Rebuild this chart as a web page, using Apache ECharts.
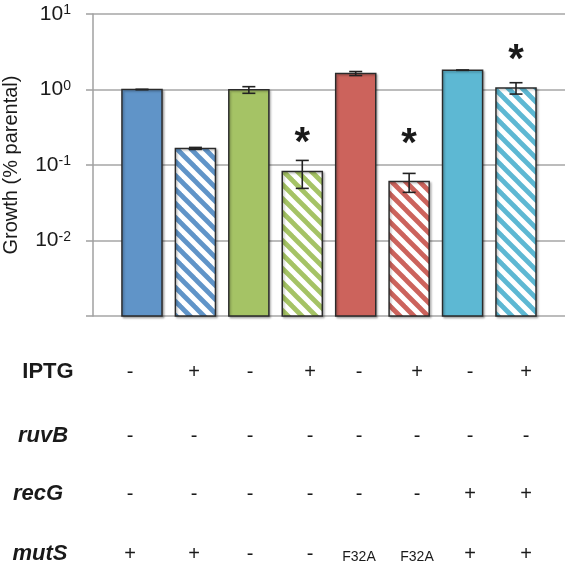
<!DOCTYPE html>
<html><head><meta charset="utf-8">
<script src="https://cdn.jsdelivr.net/npm/echarts@6/dist/echarts.min.js"></script>
<style>html,body{margin:0;padding:0;background:#fff}#c{width:565px;height:566px}</style>
</head><body><div id="c"></div>
<script>
// ---- data ----
const categories = ['1', '2', '3', '4', '5', '6', '7', '8'];
const growth = [1.0, 0.166, 0.99, 0.082, 1.63, 0.0604, 1.80, 1.05];
const errors = [0.004, 0.005, 0.10, 0.033, 0.10, 0.017, 0.008, 0.18];
const hatched = [false, true, false, true, false, true, false, true];
const barColors = ['#6094C8', '#6094C8', '#A5C365', '#A5C365', '#CC635C', '#CC635C', '#5DB8D3', '#5DB8D3'];
const asteriskY = [null, null, null, 0.25, null, 0.245, null, 3.1];
const yMin = 0.001, yMax = 10;
const rowLabels = ['IPTG', 'ruvB', 'recG', 'mutS'];
const rowItalic = [false, true, true, true];
const iptgRow = ['-', '+', '-', '+', '-', '+', '-', '+'];
const ruvBRow = ['-', '-', '-', '-', '-', '-', '-', '-'];
const recGRow = ['-', '-', '-', '-', '-', '-', '+', '+'];
const mutSRow = ['+', '+', '-', '-', 'F32A', 'F32A', '+', '+'];
const tableRows = [iptgRow, ruvBRow, recGRow, mutSRow];

// ---- layout ----
const FONT = '"Liberation Sans", Arial, sans-serif';
const colX = [130, 194, 250, 310, 359, 417, 470, 526];
const rowY = [372, 436, 494, 554];
const labelX = [48, 43, 38, 40];

function makePattern(color) {
  const P = 14;
  const cv = document.createElement('canvas');
  cv.width = P; cv.height = P;
  const ctx = cv.getContext('2d');
  ctx.fillStyle = '#ffffff';
  ctx.fillRect(0, 0, P, P);
  ctx.strokeStyle = color;
  ctx.lineWidth = 4.8;
  for (let k = -1; k <= 1; k++) {
    ctx.beginPath();
    ctx.moveTo(k * P - 2, -2);
    ctx.lineTo(k * P + P + 2, P + 2);
    ctx.stroke();
  }
  return { image: cv, repeat: 'repeat' };
}

const barData = categories.map((c, i) => [i, growth[i]]);
const errData = categories.map((c, i) => [i, growth[i], errors[i]]);
const astData = [];
asteriskY.forEach((v, i) => { if (v != null) astData.push([i, v]); });

const chart = echarts.init(document.getElementById('c'), null, { renderer: 'canvas' });

const graphics = [];
rowLabels.forEach((lab, r) => {
  graphics.push({
    type: 'text', x: labelX[r], y: rowY[r],
    style: { text: lab, fontSize: 22, fontWeight: 'bold', fontStyle: rowItalic[r] ? 'italic' : 'normal',
      fontFamily: FONT, fill: '#1a1a1a', textAlign: 'center', textVerticalAlign: 'middle' }
  });
  tableRows[r].forEach((t, i) => {
    const small = t.length > 1;
    graphics.push({
      type: 'text', x: colX[i], y: rowY[r] + (small ? 3 : 0),
      style: { text: t, fontSize: small ? 14 : 20, fontFamily: FONT, fill: '#1a1a1a',
        textAlign: 'center', textVerticalAlign: 'middle' }
    });
  });
});

chart.setOption({
  animation: false,
  backgroundColor: '#ffffff',
  grid: { left: 93, right: 0, top: 14, bottom: 250, containLabel: false, outerBoundsMode: 'none' },
  xAxis: { type: 'value', min: -0.917, max: 7.917, show: false },
  yAxis: {
    type: 'log', logBase: 10, min: yMin, max: yMax,
    name: 'Growth (% parental)', nameLocation: 'middle', nameGap: 72, nameRotate: 90,
    nameTextStyle: { fontSize: 20, fontFamily: FONT, color: '#1a1a1a' },
    axisLine: { show: true, onZero: false, lineStyle: { color: '#a0a0a0', width: 1.5 } },
    axisTick: { show: true, length: 7, lineStyle: { color: '#a0a0a0', width: 1.5 } },
    splitLine: { show: true, lineStyle: { color: '#a6a6a6', width: 1.5 } },
    axisLabel: {
      margin: 22,
      formatter: function (v) {
        if (v <= yMin * 1.0001) return '';
        const e = Math.round(Math.log10(v));
        return '{b|10}{s|' + e + '}';
      },
      rich: {
        b: { fontSize: 21, fontFamily: FONT, color: '#1a1a1a' },
        s: { fontSize: 14, fontFamily: FONT, color: '#1a1a1a', verticalAlign: 'top' }
      }
    }
  },
  graphic: graphics,
  series: [
    {
      type: 'custom', name: 'growth', data: barData, z: 3,
      renderItem: function (params, api) {
        const i = api.value(0), v = api.value(1);
        const top = api.coord([i, v]);
        const base = api.coord([i, yMin]);
        const l = api.coord([i - 0.375, v])[0], r = api.coord([i + 0.375, v])[0];
        const w = r - l;
        const fill = hatched[i] ? makePattern(barColors[i]) : barColors[i];
        return {
          type: 'rect',
          shape: { x: l, y: top[1], width: w, height: base[1] - top[1] },
          style: { fill: fill, stroke: '#2b2b2b', lineWidth: 1.5,
            shadowBlur: 2, shadowOffsetX: 1.5, shadowOffsetY: 1.5, shadowColor: 'rgba(0,0,0,0.25)' }
        };
      }
    },
    {
      type: 'custom', name: 'error', data: errData, z: 4,
      renderItem: function (params, api) {
        const i = api.value(0), v = api.value(1), e = api.value(2);
        const hi = api.coord([i, v + e]);
        const lo = api.coord([i, Math.max(v - e, yMin)]);
        const cap = 6.5;
        const st = { stroke: '#222', lineWidth: 1.6 };
        return {
          type: 'group', children: [
            { type: 'line', shape: { x1: hi[0], y1: hi[1], x2: lo[0], y2: lo[1] }, style: st },
            { type: 'line', shape: { x1: hi[0] - cap, y1: hi[1], x2: hi[0] + cap, y2: hi[1] }, style: st },
            { type: 'line', shape: { x1: lo[0] - cap, y1: lo[1], x2: lo[0] + cap, y2: lo[1] }, style: st }
          ]
        };
      }
    },
    {
      type: 'custom', name: 'asterisk', data: astData, z: 5,
      renderItem: function (params, api) {
        const p = api.coord([api.value(0), api.value(1)]);
        return {
          type: 'text', x: p[0], y: p[1] + 9,
          style: { text: '*', fontSize: 40, fontWeight: 'bold', fontFamily: FONT, fill: '#1a1a1a',
            textAlign: 'center', textVerticalAlign: 'middle' }
        };
      }
    }
  ]
});
</script>
</body></html>
